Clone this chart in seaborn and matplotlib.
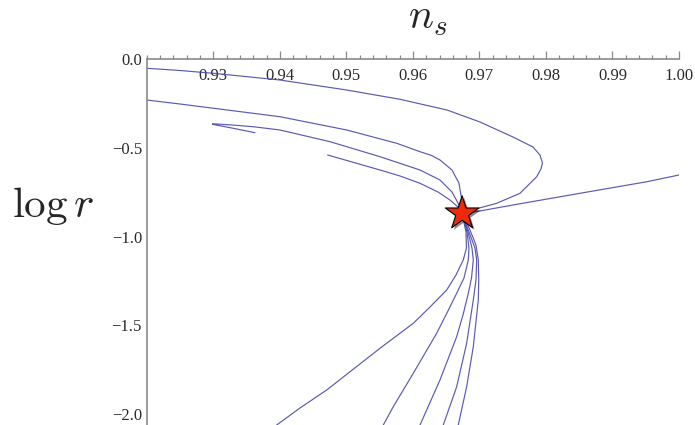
import numpy as np
import pandas as pd
import matplotlib
matplotlib.use("Agg")
import matplotlib.pyplot as plt
import matplotlib.patheffects as pe
from matplotlib.ticker import MultipleLocator, FixedLocator, FuncFormatter
import seaborn as sns

# trajectories in the (n_s, log r) plane
top_orbit_ns = [0.92000, 0.92499, 0.93000, 0.94002, 0.95005, 0.95806, 0.96512, 0.97008,
                0.97504, 0.97805, 0.97910, 0.97948, 0.97925, 0.97861, 0.97610, 0.97259,
                0.96983, 0.96738]
top_orbit_logr = [-0.0507, -0.0631, -0.0789, -0.1167, -0.1731, -0.2255, -0.2858, -0.3534,
                  -0.4380, -0.4944, -0.5395, -0.5846, -0.6184, -0.6618, -0.7554, -0.8117,
                  -0.8399, -0.8687]

second_ns = [0.92000, 0.92499, 0.94002, 0.95005, 0.95757, 0.96107, 0.96280, 0.96407,
             0.96587, 0.96692, 0.96730, 0.96738]
second_logr = [-0.2294, -0.2520, -0.3236, -0.3985, -0.4735, -0.5209, -0.5420, -0.5676,
               -0.6240, -0.6973, -0.7819, -0.8687]

hook_ns = [0.93626, 0.93300, 0.93010, 0.92985, 0.93025, 0.93326, 0.93626, 0.94002,
           0.94754, 0.95505, 0.96107, 0.96407, 0.96587, 0.96678, 0.96738]
hook_logr = [-0.4138, -0.3890, -0.3681, -0.3647, -0.3642, -0.3715, -0.3811, -0.3985,
             -0.4645, -0.5490, -0.6240, -0.6804, -0.7480, -0.8100, -0.8687]

short_ns = [0.94719, 0.95505, 0.95806, 0.96107, 0.96377, 0.96557, 0.96678, 0.96738]
short_logr = [-0.5395, -0.6240, -0.6578, -0.6990, -0.7480, -0.7931, -0.8326, -0.8687]

right_ns = [0.96738, 0.96963, 0.97504, 0.98511, 0.99519, 1.00000]
right_logr = [-0.8687, -0.8580, -0.8213, -0.7554, -0.6900, -0.6522]

low_a_ns = [0.96738, 0.96798, 0.96805, 0.96757, 0.96648, 0.96508, 0.96257, 0.96006,
            0.95505, 0.94704, 0.94303, 0.93953, 0.93852]
low_a_logr = [-0.8687, -0.9735, -1.0637, -1.1313, -1.2159, -1.3005, -1.3963, -1.4882,
              -1.6291, -1.8642, -1.9656, -2.0615, -2.0896]

low_b_ns = [0.96738, 0.96813, 0.96843, 0.96833, 0.96768, 0.96658, 0.96512, 0.96357,
            0.96006, 0.95705, 0.95555, 0.95513]
low_b_logr = [-0.8687, -0.9735, -1.0637, -1.1313, -1.2328, -1.3191, -1.4301, -1.5446,
              -1.7700, -1.9583, -2.0615, -2.0896]

low_c_ns = [0.96738, 0.96828, 0.96888, 0.96908, 0.96881, 0.96833, 0.96753, 0.96658,
            0.96407, 0.96107, 0.96073]
low_c_logr = [-0.8687, -0.9735, -1.0637, -1.1313, -1.2328, -1.3191, -1.4414, -1.5637,
              -1.8078, -2.0615, -2.0896]

low_d_ns = [0.96738, 0.96843, 0.96933, 0.96959, 0.96948, 0.96908, 0.96808, 0.96658,
            0.96457, 0.96433]
low_d_logr = [-0.8687, -0.9735, -1.0637, -1.1313, -1.2441, -1.3569, -1.6009, -1.8456,
              -2.0615, -2.0896]

low_e_ns = [0.96738, 0.96858, 0.96948, 0.96983, 0.96990, 0.96983, 0.96908, 0.96808,
            0.96682, 0.96670]
low_e_logr = [-0.8687, -0.9622, -1.0468, -1.1313, -1.2441, -1.3569, -1.6201, -1.8456,
              -2.0615, -2.0896]

# attractor
star_ns = [0.9674]
star_logr = [-0.869]

x_major = [0.93, 0.94, 0.95, 0.96, 0.97, 0.98, 0.99, 1.00]
y_major = [0.0, -0.5, -1.0, -1.5, -2.0]

curves = {
    "top": (top_orbit_ns, top_orbit_logr),
    "second": (second_ns, second_logr),
    "hook": (hook_ns, hook_logr),
    "short": (short_ns, short_logr),
    "right": (right_ns, right_logr),
    "a": (low_a_ns, low_a_logr),
    "b": (low_b_ns, low_b_logr),
    "c": (low_c_ns, low_c_logr),
    "d": (low_d_ns, low_d_logr),
    "e": (low_e_ns, low_e_logr),
}
df = pd.concat([pd.DataFrame({"ns": xs, "logr": ys, "curve": k})
                for k, (xs, ys) in curves.items()], ignore_index=True)

sns.set_style("white")
plt.rcParams["font.family"] = ["Liberation Serif", "DejaVu Serif"]
plt.rcParams["mathtext.fontset"] = "cm"

W, H = 695, 425
fig = plt.figure(figsize=(W / 100, H / 100), dpi=100)
ax = fig.add_axes([146.8 / W, 0.0, 532.2 / W, 365.7 / H])

sns.lineplot(data=df, x="ns", y="logr", units="curve", estimator=None, sort=False,
             color="#4848aa", linewidth=0.85, alpha=0.9, ax=ax, legend=False)

st = sns.scatterplot(x=star_ns, y=star_logr, marker="*", s=650, color="#ee2a0b",
                     edgecolor="black", linewidth=0.8, zorder=5, ax=ax, legend=False)
st.collections[-1].set_path_effects([
    pe.SimplePatchShadow(offset=(1.5, -1.5), shadow_rgbFace="black", alpha=0.45),
    pe.Normal()])

ax.set_xlim(0.92, 1.0)
ax.set_ylim(-2.0615, 0.0)
ax.set_xlabel("")
ax.set_ylabel("")

for side in ["right", "bottom"]:
    ax.spines[side].set_visible(False)
for side in ["left", "top"]:
    ax.spines[side].set_color("#8a8a8a")
    ax.spines[side].set_linewidth(1.2)

ax.xaxis.tick_top()
ax.xaxis.set_major_locator(FixedLocator(x_major))
ax.xaxis.set_minor_locator(MultipleLocator(0.002))
ax.xaxis.set_major_formatter(FuncFormatter(lambda v, _: f"{v:.2f}"))
ax.tick_params(axis="x", which="both", direction="out", color="#8a8a8a",
               labelcolor="#2a2a2a", labelsize=12, pad=-23.5, width=0.9)
ax.tick_params(axis="x", which="major", length=5.5)
ax.tick_params(axis="x", which="minor", length=3.0)

ax.yaxis.set_major_locator(FixedLocator(y_major))
ax.yaxis.set_minor_locator(MultipleLocator(0.1))
ax.yaxis.set_major_formatter(FuncFormatter(lambda v, _: f"{v:.1f}".replace("-", "\u2212")))
ax.tick_params(axis="y", which="both", direction="in", color="#8a8a8a",
               labelcolor="#2a2a2a", labelsize=12, pad=3.5, width=0.9)
ax.tick_params(axis="y", which="major", length=5.0)
ax.tick_params(axis="y", which="minor", length=3.5)

fig.text(408 / W, 1 - 28.5 / H, r"$n_s$", fontsize=30, ha="left", va="baseline")
fig.text(12 / W, 1 - 216.7 / H, r"$\log r$", fontsize=31, ha="left", va="baseline")

fig.savefig("out.png", dpi=100)
